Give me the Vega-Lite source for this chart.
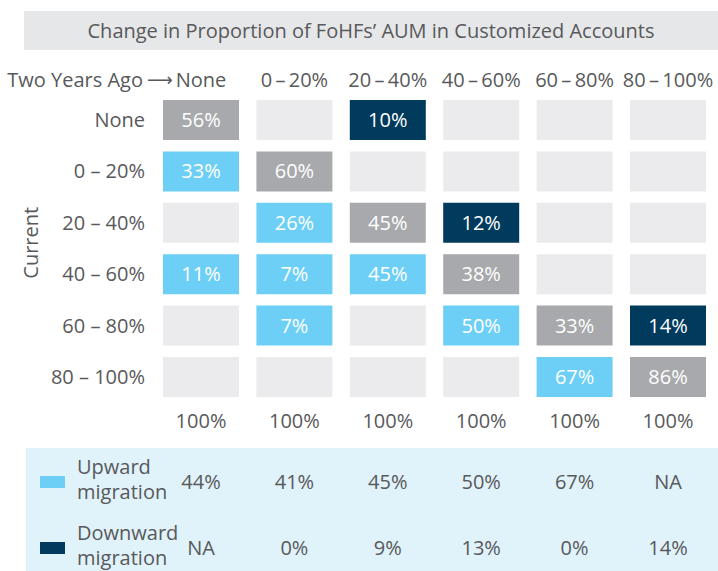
{
  "$schema": "https://vega.github.io/schema/vega-lite/v6.json",
  "width": 718,
  "height": 571,
  "autosize": "none",
  "padding": 0,
  "config": {"view": {"stroke": null}, "font": "Open Sans", "text": {"font": "Open Sans", "fontSize": 20, "color": "#58595b"}},
  "resolve": {"scale": {"x": "independent", "y": "independent", "color": "independent"}},
  "layer": [
    {
      "data": {"values": [{"title": "Change in Proportion of FoHFs\u2019 AUM in Customized Accounts"}]},
      "encoding": {
        "x": {"field": "title", "type": "nominal", "axis": null, "scale": {"type": "band", "range": [24, 718], "paddingInner": 0, "paddingOuter": 0}},
        "y": {"field": "title", "type": "nominal", "axis": null, "scale": {"type": "band", "range": [11, 50], "paddingInner": 0, "paddingOuter": 0}}
      },
      "layer": [
        {"mark": {"type": "rect", "color": "#e6e7e8"}},
        {"mark": {"type": "text", "dy": 1}, "encoding": {"text": {"field": "title"}}}
      ]
    },
    {
      "data": {"values": [{"panel": "migration"}]},
      "mark": {"type": "rect", "color": "#e0f2fa"},
      "encoding": {
        "x": {"field": "panel", "type": "nominal", "axis": null, "scale": {"type": "band", "range": [26, 718], "paddingInner": 0, "paddingOuter": 0}},
        "y": {"field": "panel", "type": "nominal", "axis": null, "scale": {"type": "band", "range": [448, 571], "paddingInner": 0, "paddingOuter": 0}}
      }
    },
    {
      "data": {"values": [
        {"ago": "None", "current": "None", "share": "56%", "move": "Unchanged"},
        {"ago": "0\u2009\u2013\u200920%", "current": "None", "share": "", "move": "Empty"},
        {"ago": "20\u2009\u2013\u200940%", "current": "None", "share": "10%", "move": "Downward"},
        {"ago": "40\u2009\u2013\u200960%", "current": "None", "share": "", "move": "Empty"},
        {"ago": "60\u2009\u2013\u200980%", "current": "None", "share": "", "move": "Empty"},
        {"ago": "80\u2009\u2013\u2009100%", "current": "None", "share": "", "move": "Empty"},
        {"ago": "None", "current": "0 \u2013 20%", "share": "33%", "move": "Upward"},
        {"ago": "0\u2009\u2013\u200920%", "current": "0 \u2013 20%", "share": "60%", "move": "Unchanged"},
        {"ago": "20\u2009\u2013\u200940%", "current": "0 \u2013 20%", "share": "", "move": "Empty"},
        {"ago": "40\u2009\u2013\u200960%", "current": "0 \u2013 20%", "share": "", "move": "Empty"},
        {"ago": "60\u2009\u2013\u200980%", "current": "0 \u2013 20%", "share": "", "move": "Empty"},
        {"ago": "80\u2009\u2013\u2009100%", "current": "0 \u2013 20%", "share": "", "move": "Empty"},
        {"ago": "None", "current": "20 \u2013 40%", "share": "", "move": "Empty"},
        {"ago": "0\u2009\u2013\u200920%", "current": "20 \u2013 40%", "share": "26%", "move": "Upward"},
        {"ago": "20\u2009\u2013\u200940%", "current": "20 \u2013 40%", "share": "45%", "move": "Unchanged"},
        {"ago": "40\u2009\u2013\u200960%", "current": "20 \u2013 40%", "share": "12%", "move": "Downward"},
        {"ago": "60\u2009\u2013\u200980%", "current": "20 \u2013 40%", "share": "", "move": "Empty"},
        {"ago": "80\u2009\u2013\u2009100%", "current": "20 \u2013 40%", "share": "", "move": "Empty"},
        {"ago": "None", "current": "40 \u2013 60%", "share": "11%", "move": "Upward"},
        {"ago": "0\u2009\u2013\u200920%", "current": "40 \u2013 60%", "share": "7%", "move": "Upward"},
        {"ago": "20\u2009\u2013\u200940%", "current": "40 \u2013 60%", "share": "45%", "move": "Upward"},
        {"ago": "40\u2009\u2013\u200960%", "current": "40 \u2013 60%", "share": "38%", "move": "Unchanged"},
        {"ago": "60\u2009\u2013\u200980%", "current": "40 \u2013 60%", "share": "", "move": "Empty"},
        {"ago": "80\u2009\u2013\u2009100%", "current": "40 \u2013 60%", "share": "", "move": "Empty"},
        {"ago": "None", "current": "60 \u2013 80%", "share": "", "move": "Empty"},
        {"ago": "0\u2009\u2013\u200920%", "current": "60 \u2013 80%", "share": "7%", "move": "Upward"},
        {"ago": "20\u2009\u2013\u200940%", "current": "60 \u2013 80%", "share": "", "move": "Empty"},
        {"ago": "40\u2009\u2013\u200960%", "current": "60 \u2013 80%", "share": "50%", "move": "Upward"},
        {"ago": "60\u2009\u2013\u200980%", "current": "60 \u2013 80%", "share": "33%", "move": "Unchanged"},
        {"ago": "80\u2009\u2013\u2009100%", "current": "60 \u2013 80%", "share": "14%", "move": "Downward"},
        {"ago": "None", "current": "80 \u2013 100%", "share": "", "move": "Empty"},
        {"ago": "0\u2009\u2013\u200920%", "current": "80 \u2013 100%", "share": "", "move": "Empty"},
        {"ago": "20\u2009\u2013\u200940%", "current": "80 \u2013 100%", "share": "", "move": "Empty"},
        {"ago": "40\u2009\u2013\u200960%", "current": "80 \u2013 100%", "share": "", "move": "Empty"},
        {"ago": "60\u2009\u2013\u200980%", "current": "80 \u2013 100%", "share": "67%", "move": "Upward"},
        {"ago": "80\u2009\u2013\u2009100%", "current": "80 \u2013 100%", "share": "86%", "move": "Unchanged"}
      ]},
      "encoding": {
        "x": {"field": "ago", "type": "nominal", "axis": null, "scale": {"type": "band", "domain": ["None", "0\u2009\u2013\u200920%", "20\u2009\u2013\u200940%", "40\u2009\u2013\u200960%", "60\u2009\u2013\u200980%", "80\u2009\u2013\u2009100%"], "range": [154.3, 714.7], "paddingInner": 0.1863, "paddingOuter": 0.0932}},
        "y": {"field": "current", "type": "nominal", "axis": null, "scale": {"type": "band", "domain": ["Two Years Ago", "None", "0 \u2013 20%", "20 \u2013 40%", "40 \u2013 60%", "60 \u2013 80%", "80 \u2013 100%", "Total"], "range": [42.9, 454.1], "paddingInner": 0.2218, "paddingOuter": 0.1109}}
      },
      "layer": [
        {
          "mark": {"type": "rect"},
          "encoding": {
            "color": {"field": "move", "type": "nominal", "legend": null, "scale": {"domain": ["Upward", "Downward", "Unchanged", "Empty"], "range": ["#6dcff6", "#003a5d", "#a7a9ac", "#ebebed"]}}
          }
        },
        {
          "mark": {"type": "text", "color": "#ffffff", "dy": 1},
          "encoding": {"text": {"field": "share"}}
        },
        {
          "data": {"values": [{"current": "None"}, {"current": "0 \u2013 20%"}, {"current": "20 \u2013 40%"}, {"current": "40 \u2013 60%"}, {"current": "60 \u2013 80%"}, {"current": "80 \u2013 100%"}]},
          "mark": {"type": "text", "align": "right", "dx": -18, "dy": 1},
          "encoding": {
            "x": {"datum": "None", "type": "nominal", "bandPosition": 0},
            "text": {"field": "current"}
          }
        },
        {
          "data": {"values": [{"ago": "None", "current": "Two Years Ago"}, {"ago": "0\u2009\u2013\u200920%", "current": "Two Years Ago"}, {"ago": "20\u2009\u2013\u200940%", "current": "Two Years Ago"}, {"ago": "40\u2009\u2013\u200960%", "current": "Two Years Ago"}, {"ago": "60\u2009\u2013\u200980%", "current": "Two Years Ago"}, {"ago": "80\u2009\u2013\u2009100%", "current": "Two Years Ago"}]},
          "mark": {"type": "text", "dy": 12},
          "encoding": {"text": {"field": "ago"}}
        },
        {
          "data": {"values": [{"label": "Two Years Ago", "current": "Two Years Ago"}]},
          "mark": {"type": "text", "align": "right", "dx": -20, "dy": 12},
          "encoding": {
            "x": {"datum": "None", "type": "nominal", "bandPosition": 0},
            "text": {"field": "label"}
          }
        },
        {
          "data": {"values": [{"arrow": "\u27f6", "current": "Two Years Ago"}]},
          "mark": {"type": "text", "font": "DejaVu Sans", "fontSize": 18, "align": "center", "dx": -3, "dy": 12},
          "encoding": {
            "x": {"datum": "None", "type": "nominal", "bandPosition": 0},
            "text": {"field": "arrow"}
          }
        },
        {
          "data": {"values": [{"ago": "None", "current": "Total", "total": "100%"}, {"ago": "0\u2009\u2013\u200920%", "current": "Total", "total": "100%"}, {"ago": "20\u2009\u2013\u200940%", "current": "Total", "total": "100%"}, {"ago": "40\u2009\u2013\u200960%", "current": "Total", "total": "100%"}, {"ago": "60\u2009\u2013\u200980%", "current": "Total", "total": "100%"}, {"ago": "80\u2009\u2013\u2009100%", "current": "Total", "total": "100%"}]},
          "mark": {"type": "text", "dy": -6},
          "encoding": {"text": {"field": "total"}}
        },
        {
          "data": {"values": [{"axisTitle": "Current"}]},
          "mark": {"type": "text", "angle": 270, "dy": -131},
          "encoding": {
            "x": {"datum": "None", "type": "nominal", "bandPosition": 0},
            "y": {"datum": "20 \u2013 40%", "type": "nominal", "bandPosition": 1},
            "text": {"field": "axisTitle"}
          }
        }
      ]
    },
    {
      "data": {"values": [
        {"direction": "Upward migration", "ago": "None", "pct": "44%"},
        {"direction": "Upward migration", "ago": "0\u2009\u2013\u200920%", "pct": "41%"},
        {"direction": "Upward migration", "ago": "20\u2009\u2013\u200940%", "pct": "45%"},
        {"direction": "Upward migration", "ago": "40\u2009\u2013\u200960%", "pct": "50%"},
        {"direction": "Upward migration", "ago": "60\u2009\u2013\u200980%", "pct": "67%"},
        {"direction": "Upward migration", "ago": "80\u2009\u2013\u2009100%", "pct": "NA"},
        {"direction": "Downward migration", "ago": "None", "pct": "NA"},
        {"direction": "Downward migration", "ago": "0\u2009\u2013\u200920%", "pct": "0%"},
        {"direction": "Downward migration", "ago": "20\u2009\u2013\u200940%", "pct": "9%"},
        {"direction": "Downward migration", "ago": "40\u2009\u2013\u200960%", "pct": "13%"},
        {"direction": "Downward migration", "ago": "60\u2009\u2013\u200980%", "pct": "0%"},
        {"direction": "Downward migration", "ago": "80\u2009\u2013\u2009100%", "pct": "14%"}
      ]},
      "encoding": {
        "x": {"field": "ago", "type": "nominal", "axis": null, "scale": {"type": "band", "domain": ["None", "0\u2009\u2013\u200920%", "20\u2009\u2013\u200940%", "40\u2009\u2013\u200960%", "60\u2009\u2013\u200980%", "80\u2009\u2013\u2009100%"], "range": [154.3, 714.7], "paddingInner": 0.1863, "paddingOuter": 0.0932}},
        "y": {"field": "direction", "type": "nominal", "axis": null, "scale": {"type": "band", "domain": ["Upward migration", "Downward migration"], "range": [450, 582], "paddingInner": 0, "paddingOuter": 0}}
      },
      "layer": [
        {
          "mark": {"type": "text"},
          "encoding": {"text": {"field": "pct"}}
        },
        {
          "data": {"values": [{"direction": "Upward migration"}, {"direction": "Downward migration"}]},
          "mark": {"type": "text", "align": "left", "dx": -86, "dy": -15, "lineBreak": " ", "lineHeight": 25},
          "encoding": {
            "x": {"datum": "None", "type": "nominal", "bandPosition": 0},
            "text": {"field": "direction"}
          }
        }
      ]
    },
    {
      "data": {"values": [{"direction": "Upward migration"}, {"direction": "Downward migration"}]},
      "mark": {"type": "rect"},
      "encoding": {
        "x": {"datum": "key", "type": "nominal", "axis": null, "scale": {"type": "band", "domain": ["key"], "range": [40, 65], "paddingInner": 0, "paddingOuter": 0}},
        "y": {"field": "direction", "type": "nominal", "axis": null, "scale": {"type": "band", "domain": ["Upward migration", "Downward migration"], "range": [449, 581], "paddingInner": 0.818, "paddingOuter": 0.409}},
        "color": {"field": "direction", "type": "nominal", "legend": null, "scale": {"domain": ["Upward migration", "Downward migration"], "range": ["#6dcff6", "#003a5d"]}}
      }
    }
  ]
}
